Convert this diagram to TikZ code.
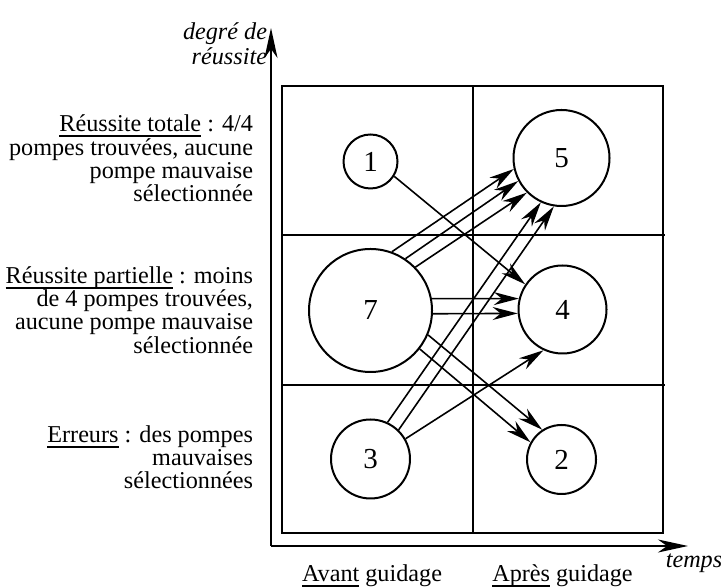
\documentclass[tikz,border=0pt]{standalone}
\usepackage{fontspec}
\setmainfont{Liberation Serif}
\usetikzlibrary{arrows.meta}
\newcommand{\souligne}[1]{\setbox0\hbox{#1}\rlap{\raisebox{-2.6pt}{\rule{\wd0}{0.9pt}}}\box0\relax}

\begin{document}
\begin{tikzpicture}[x=25pt, y=25pt, line width=1pt,
  grp/.style={circle, draw=black, inner sep=0pt, font=\fontsize{14.5}{16}\selectfont},
  lbl/.style={anchor=east, align=right, inner sep=0pt, font=\fontsize{12.1}{11.6}\selectfont},
  axe/.style={inner sep=0pt, font=\itshape\fontsize{12.1}{12.5}\selectfont},
  fl/.style={-{Stealth[length=12.5pt, width=6.5pt, inset=4pt]}, line width=0.8pt}]
  \useasboundingbox (0, 0) rectangle (14.42, 11.74);

  % axes
  \coordinate (o) at (5.42, 0.82);
  \coordinate (ytip) at (5.42, 11.18);
  \coordinate (xtip) at (13.76, 0.82);
  \draw[-{Stealth[length=15pt, width=6.5pt, inset=4.5pt]}] (o) -- (ytip);
  \draw[-{Stealth[length=15pt, width=6.5pt, inset=4.5pt]}] (o) -- (xtip);
  \node[axe, anchor=east, align=right] (deg) at (5.36, 10.86) {degré de\\réussite};
  \node[axe] (tps) at (13.88, 0.47) {temps};

  % grille
  \draw (5.64, 1.08) rectangle (13.26, 10.02);
  \draw (9.46, 1.08) -- (9.46, 10.02);
  \draw (5.64, 7.04) -- (13.30, 7.04);
  \draw (5.64, 4.04) -- (13.30, 4.04);

  \node[lbl] (tot) at (5.08, 8.57) {\souligne{Réussite totale} : 4/4\\pompes trouvées, aucune\\pompe mauvaise\\sélectionnée};
  \node[lbl] (part) at (5.08, 5.54) {\souligne{Réussite partielle} : moins\\de 4 pompes trouvées,\\aucune pompe mauvaise\\sélectionnée};
  \node[lbl] (err) at (5.08, 2.59) {\souligne{Erreurs} : des pompes\\mauvaises\\sélectionnées};

  \node[axe, font=\fontsize{12.1}{12.5}\selectfont] (avant) at (7.44, 0.22) {\souligne{Avant} guidage};
  \node[axe, font=\fontsize{12.1}{12.5}\selectfont] (apres) at (11.25, 0.22) {\souligne{Après} guidage};

  % groupes
  \node[grp, minimum size=27pt] (g1) at (7.41, 8.51) {1};
  \node[grp, minimum size=48pt] (g5) at (11.23, 8.58) {5};
  \node[grp, minimum size=61.5pt] (g7) at (7.41, 5.53) {7};
  \node[grp, minimum size=44pt] (g4) at (11.25, 5.55) {4};
  \node[grp, minimum size=39.5pt] (g3) at (7.41, 2.56) {3};
  \node[grp, minimum size=34.5pt] (g2) at (11.23, 2.55) {2};

  \path[fl] (g1.328) edge (g4.146);

  \path[fl] (g7.70) edge (g5.193);
  \path[fl] (g7.56) edge (g5.208);
  \path[fl] (g7.44) edge (g5.225);
  \path[fl] (g7.11) edge (g4.166);
  \path[fl] (g7.357) edge (g4.185);
  \path[fl] (g7.337) edge (g2.123);
  \path[fl] (g7.322) edge (g2.151);

  \path[fl] (g3.65) edge (g5.245);
  \path[fl] (g3.46) edge (g5.261);
  \path[fl] (g3.30) edge (g4.245);

\end{tikzpicture}
\end{document}
